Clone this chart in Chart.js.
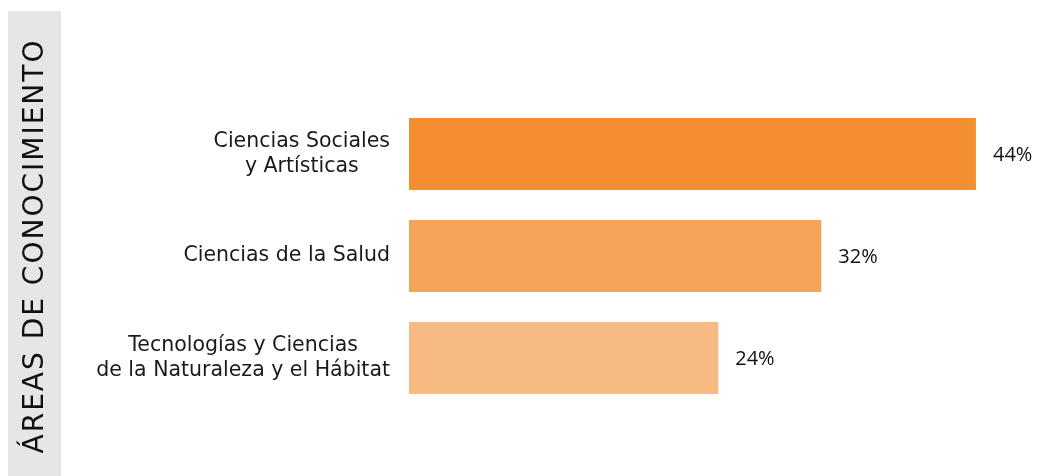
<!DOCTYPE html>
<html lang="es">
<head>
    <meta charset="UTF-8">
    <title>Áreas de conocimiento</title>
    <script src="https://cdn.jsdelivr.net/npm/chart.js"></script>
    <style>
        html, body { margin: 0; padding: 0; background: #ffffff; }
        .chart-box { position: relative; width: 1043px; height: 476px; }
    </style>
</head>
<body>
    <div class="chart-box">
        <canvas id="areasChart"></canvas>
    </div>
    <script>
        // Data
        const categories = [
            ['Ciencias Sociales', 'y Artísticas'],
            ['Ciencias de la Salud'],
            ['Tecnologías y Ciencias', 'de la Naturaleza y el Hábitat']
        ];
        const percentages = [44, 32, 24];
        const barColors = ['#F48F31', '#F5A55A', '#F7BA83'];
        const sideTitle = 'ÁREAS DE CONOCIMIENTO';

        // Side band with the rotated title, labels left of bars and values after them
        const decorations = {
            id: 'decorations',
            beforeDraw(chart) {
                const ctx = chart.ctx;
                ctx.save();
                ctx.fillStyle = '#E6E6E6';
                ctx.fillRect(8, 11, 53, 465);
                ctx.translate(35, 246);
                ctx.rotate(-Math.PI / 2);
                ctx.fillStyle = '#111111';
                ctx.font = '28px "DejaVu Sans"';
                ctx.letterSpacing = '2px';
                ctx.textAlign = 'center';
                ctx.textBaseline = 'middle';
                ctx.fillText(sideTitle, 0, 1);
                ctx.restore();
            },
            afterDatasetsDraw(chart) {
                const ctx = chart.ctx;
                const yScale = chart.scales.y;
                const xScale = chart.scales.x;
                ctx.save();
                ctx.fillStyle = '#1a1a1a';
                ctx.textBaseline = 'middle';

                // category labels
                ctx.font = '20.5px "DejaVu Sans"';
                categories.forEach((lines, i) => {
                    const yc = yScale.getPixelForValue(i);
                    const widths = lines.map(l => ctx.measureText(l).width);
                    const blockW = Math.max(...widths);
                    const centerX = 390 - blockW / 2;
                    const lineH = 25;
                    const startY = yc - (lines.length - 1) * lineH / 2;
                    ctx.textAlign = 'center';
                    lines.forEach((l, k) => ctx.fillText(l, centerX, startY + k * lineH));
                });

                // value labels
                ctx.font = '20px "Open Sans"';
                ctx.fillStyle = '#111111';
                ctx.textAlign = 'left';
                percentages.forEach((v, i) => {
                    const x = xScale.getPixelForValue(v) + 17;
                    const y = yScale.getPixelForValue(i) + 1;
                    ctx.fillText(v + '%', x, y);
                });
                ctx.restore();
            }
        };

        new Chart(document.getElementById('areasChart'), {
            type: 'bar',
            data: {
                labels: categories.map(c => c.join(' ')),
                datasets: [{
                    data: percentages,
                    backgroundColor: barColors,
                    borderWidth: 0,
                    categoryPercentage: 1,
                    barPercentage: 0.706
                }]
            },
            options: {
                indexAxis: 'y',
                responsive: true,
                maintainAspectRatio: false,
                animation: false,
                layout: {
                    padding: { left: 409, right: 15.5, top: 103, bottom: 67 }
                },
                scales: {
                    x: { display: false, min: 0, max: 48 },
                    y: { display: false }
                },
                plugins: {
                    legend: { display: false },
                    tooltip: { enabled: false }
                }
            },
            plugins: [decorations]
        });
    </script>
</body>
</html>
